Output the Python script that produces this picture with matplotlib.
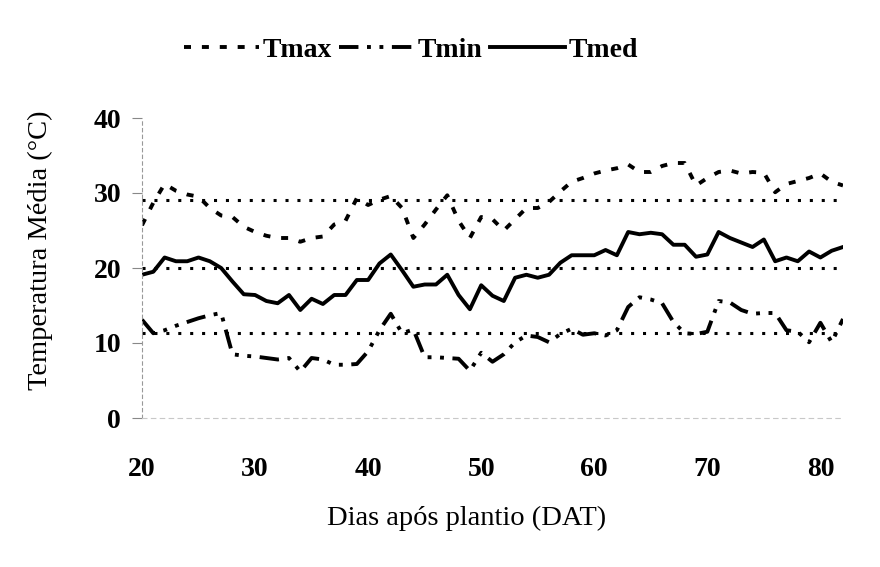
import matplotlib
matplotlib.use("Agg")
import matplotlib.pyplot as plt
import numpy as np

# --- dados ---
dias = list(range(20, 83))

tmax = [25.7, 28.7, 31.2, 30.3, 29.8, 29.5, 28.0, 27.0, 26.8, 25.5,
        24.8, 24.3, 24.0, 24.0, 23.5, 24.0, 24.2, 25.8, 26.3, 29.3,
        28.4, 29.1, 29.6, 28.0, 24.0, 25.8, 27.8, 29.7, 26.3, 24.0,
        26.8, 26.5, 25.0, 26.5, 28.0, 28.0, 28.8, 30.2, 31.5, 32.0,
        32.6, 33.0, 33.3, 33.8, 32.8, 32.8, 33.6, 34.0, 34.0, 31.0,
        32.0, 32.8, 33.0, 32.6, 32.8, 32.7, 30.1, 31.2, 31.6, 32.0,
        32.6, 31.5, 31.0]

tmin = [13.1, 11.3, 11.7, 12.3, 12.8, 13.3, 13.7, 14.0, 8.5, 8.3,
        8.2, 8.0, 7.8, 8.0, 6.2, 8.0, 7.8, 7.1, 7.1, 7.2,
        8.9, 11.7, 13.9, 11.3, 11.8, 8.1, 8.1, 8.0, 7.9, 6.3,
        8.7, 7.5, 8.5, 10.1, 11.0, 10.8, 10.1, 11.2, 11.9, 11.1,
        11.3, 11.0, 11.7, 14.8, 16.1, 15.8, 15.3, 12.8, 11.3, 11.2,
        11.5, 15.6, 15.4, 14.4, 13.9, 14.0, 14.0, 11.7, 11.5, 10.1,
        12.7, 10.1, 13.2]

tmed = [19.1, 19.5, 21.4, 20.9, 20.9, 21.4, 20.9, 20.0, 18.2, 16.5,
        16.4, 15.6, 15.3, 16.4, 14.4, 15.9, 15.2, 16.4, 16.4, 18.4,
        18.4, 20.6, 21.8, 19.7, 17.5, 17.8, 17.8, 19.1, 16.4, 14.5,
        17.7, 16.3, 15.6, 18.7, 19.1, 18.7, 19.1, 20.7, 21.7, 21.7,
        21.7, 22.4, 21.7, 24.8, 24.5, 24.7, 24.5, 23.1, 23.1, 21.5,
        21.8, 24.8, 24.0, 23.4, 22.8, 23.8, 20.9, 21.4, 20.9, 22.2,
        21.4, 22.3, 22.8]

# linhas de referência (médias) pontilhadas
niveis_ref = [29.1, 20.0, 11.3]

xticks = [20, 30, 40, 50, 60, 70, 80]
yticks = [0, 10, 20, 30, 40]

plt.rcParams['font.family'] = ['Liberation Serif', 'DejaVu Serif']

fig = plt.figure(figsize=(8.8, 5.67), dpi=100)
ax = fig.add_axes([142 / 880, 1 - 418 / 567, 701 / 880, 300 / 567])

# linhas pontilhadas de referência
for nv in niveis_ref:
    ax.axhline(nv, color='black', lw=2.2, linestyle=(0, (1, 2.9)), zorder=1)

lw = 2.8
ax.plot(dias, tmax, color='black', lw=lw, linestyle=(0, (1.8, 2.8)), label='Tmax')
ax.plot(dias, tmin, color='black', lw=lw, linestyle=(0, (5, 2.2, 1, 2.2, 1, 2.2)), label='Tmin')
ax.plot(dias, tmed, color='black', lw=lw, linestyle='-', label='Tmed')

ax.set_xlim(20, 82)
ax.set_ylim(0, 40)
ax.set_xticks(xticks)
ax.set_yticks(yticks)
ax.tick_params(axis='x', length=0, pad=28, labelsize=20)
ax.tick_params(axis='y', length=7, width=0.8, color='#888888', pad=8, labelsize=20)
for lab in ax.get_xticklabels() + ax.get_yticklabels():
    lab.set_fontweight('bold')

for s in ['top', 'right']:
    ax.spines[s].set_visible(False)
ax.spines['left'].set_color('#999999')
ax.spines['left'].set_linewidth(0.8)
ax.spines['left'].set_linestyle((0, (3, 3)))
ax.spines['bottom'].set_color('#c8c8c8')
ax.spines['bottom'].set_linewidth(0.8)
ax.spines['bottom'].set_linestyle((0, (4, 4)))

ax.set_xlabel('Dias após plantio (DAT)', fontsize=20.5, va='center')
ax.xaxis.set_label_coords((467 - 142) / 701, -(518 - 418) / 300)
ax.set_ylabel('Temperatura Média (°C)', fontsize=20.5, va='center')
ax.yaxis.set_label_coords((40 - 142) / 701, (418 - 250) / 300)

fig.legend(loc='center', bbox_to_anchor=(411 / 880, 1 - 50 / 567), ncol=3,
           frameon=False, handlelength=2.7, handletextpad=0.15, columnspacing=0.25,
           prop={'weight': 'bold', 'size': 20})

fig.savefig('out.png', dpi=100)
